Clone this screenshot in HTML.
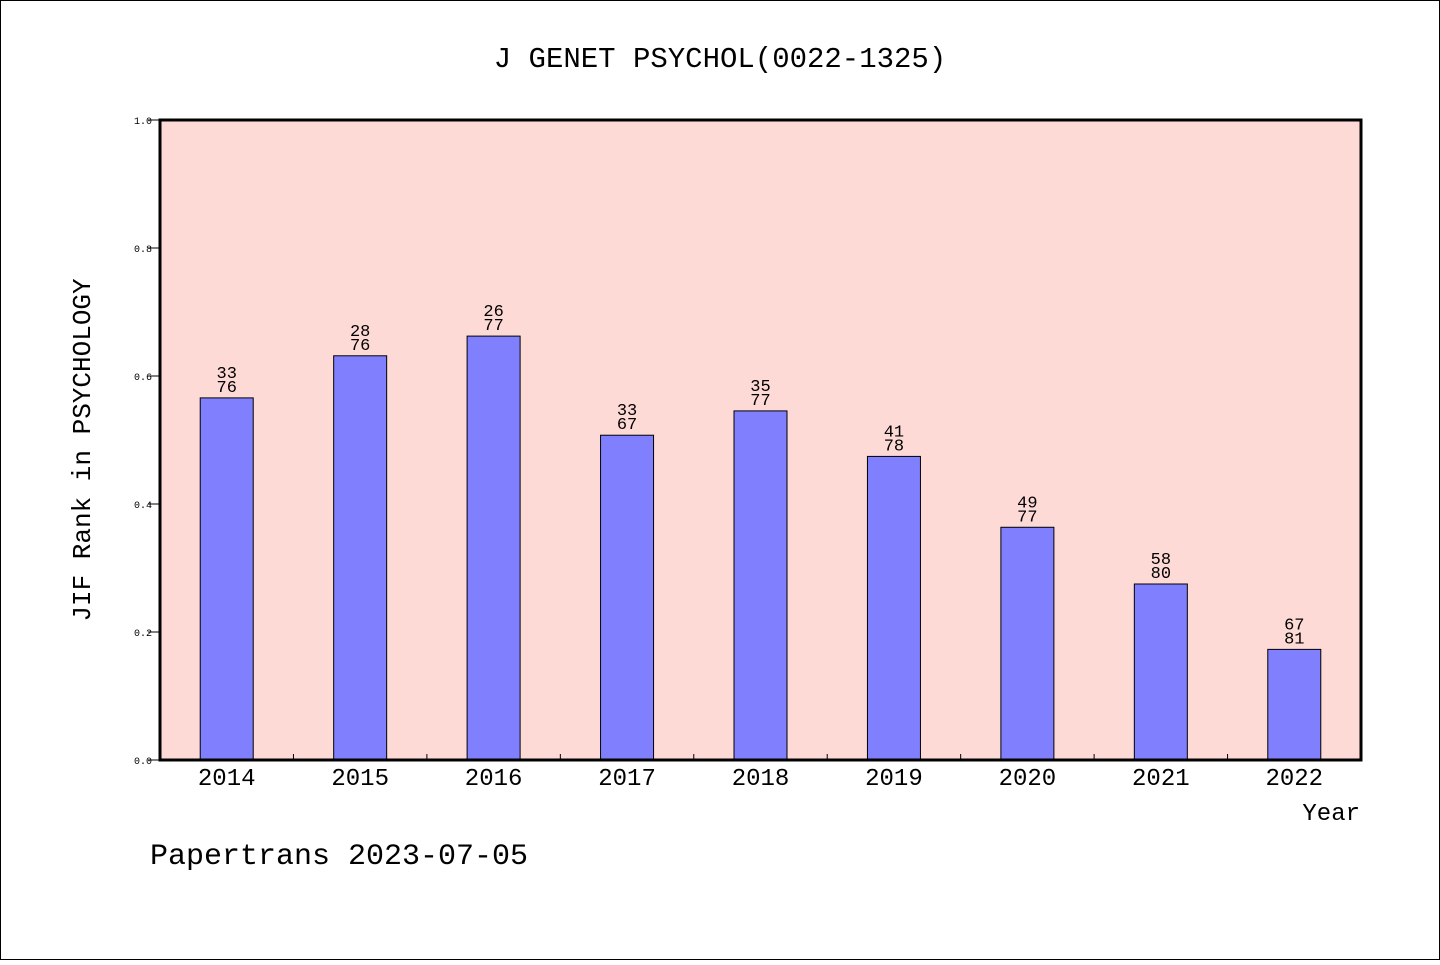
<!DOCTYPE html>
<html><head><meta charset="utf-8"><style>
body{margin:0;background:#fff}
svg text{font-family:"WenQuanYi Zen Hei","Liberation Mono",monospace;fill:#000}
</style></head><body>
<svg id="c" width="1440" height="960" xmlns="http://www.w3.org/2000/svg">
<rect x="0.5" y="0.5" width="1439" height="959" fill="#fff" stroke="#000"/>
<text x="720" y="67" font-size="29" text-anchor="middle">J GENET PSYCHOL(0022-1325)</text>
<rect x="160" y="120" width="1201" height="640" fill="#fddad6"/>
<g id="bars"></g>
<rect x="160" y="120" width="1201" height="640" fill="none" stroke="#000" stroke-width="3"/>
<text transform="translate(90,450) rotate(-90)" font-size="26" text-anchor="middle">JIF Rank in PSYCHOLOGY</text>
<text x="1360" y="820" font-size="24" text-anchor="end">Year</text>
<text x="150" y="864" font-size="30">Papertrans 2023-07-05</text>
</svg>
<script>
const years=['2014','2015','2016','2017','2018','2019','2020','2021','2022'];
const ranks=[33,28,26,33,35,41,49,58,67];
const totals=[76,76,77,67,77,78,77,80,81];
const yTicks=[0,0.2,0.4,0.6,0.8,1.0];
const svg=document.getElementById('c'),g=document.getElementById('bars');
const NS='http://www.w3.org/2000/svg';
const x0=160,w=1201,yb=760,h=640;
const slot=w/years.length;
const y=v=>yb-v*h;
const xc=i=>x0+slot*(i+0.5);
function mk(t,a,p){const e=document.createElementNS(NS,t);for(const k in a)e.setAttribute(k,a[k]);(p||g).appendChild(e);return e;}
yTicks.forEach(v=>{
 const l=mk('line',{x1:148,x2:160,y1:y(v),y2:y(v),stroke:'#000'},svg);
 
 
 const t=mk('text',{x:152,y:y(v)+4,'font-size':10,'text-anchor':'end'},svg);
 t.textContent=v.toFixed(1);
 
 
});
years.forEach((yr,i)=>{
 const v=1-ranks[i]/totals[i];
 const b=mk('rect',{x:xc(i)-26.5,y:y(v),width:53,height:yb-y(v),fill:'#8080ff',stroke:'#000','stroke-width':1});
 
 
 const t1=mk('text',{x:xc(i),y:y(v)-20,'font-size':17,'text-anchor':'middle'});
 t1.textContent=ranks[i];
 
 
 const t2=mk('text',{x:xc(i),y:y(v)-6,'font-size':17,'text-anchor':'middle'});
 t2.textContent=totals[i];
 
 
 const xl=mk('text',{x:xc(i),y:785,'font-size':24,'text-anchor':'middle'},svg);
 xl.textContent=yr;
 
 
 if(i>0){const tk=mk('line',{x1:x0+slot*i,x2:x0+slot*i,y1:754,y2:760,stroke:'#000'});
 
 }
});
</script>
</body></html>
